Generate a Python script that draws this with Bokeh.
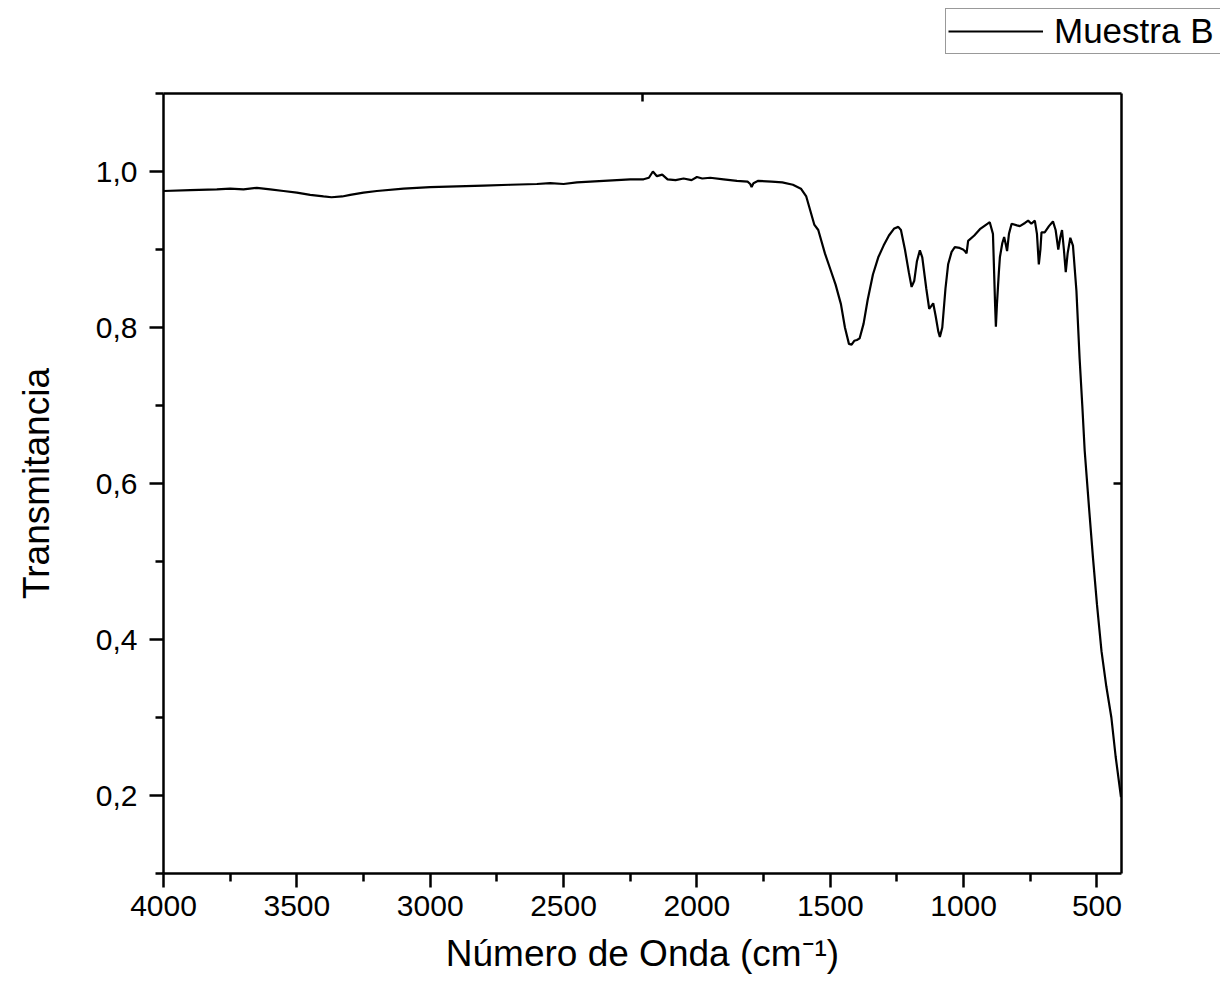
from bokeh.plotting import figure
from bokeh.layouts import column
from bokeh.models import Range1d, LinearAxis, FixedTicker, CustomJSTickFormatter, Legend, LegendItem
from bokeh.embed import file_html
from bokeh.resources import INLINE

wavenumber = [4000, 3900, 3800, 3750, 3700, 3650, 3600, 3550, 3500, 3450, 3400, 3370, 3330, 3300,
              3250, 3200, 3100, 3000, 2900, 2800, 2700, 2600, 2550, 2500, 2450, 2400, 2300, 2250,
              2200, 2180, 2165, 2150, 2130, 2110, 2080, 2050, 2020, 2000, 1980, 1950, 1900, 1850,
              1810, 1800, 1795, 1788, 1770, 1720, 1680, 1640, 1610, 1590, 1575, 1560, 1545, 1520,
              1500, 1480, 1460, 1445, 1430, 1420, 1410, 1400, 1390, 1375, 1360, 1340, 1320, 1300,
              1280, 1260, 1245, 1235, 1220, 1205, 1195, 1185, 1175, 1164, 1155, 1140, 1129, 1120,
              1114, 1105, 1095, 1089, 1080, 1068, 1058, 1045, 1033, 1015, 1002, 995, 989, 983,
              960, 939, 915, 902, 890, 882, 879, 875, 868, 864, 855, 848, 841, 837, 830, 820,
              800, 789, 770, 758, 746, 733, 725, 718, 712, 708, 696, 680, 665, 655, 645, 638,
              631, 624, 617, 610, 600, 590, 577, 565, 555, 546, 530, 515, 500, 483, 465, 446,
              430, 410]
transmitancia = [0.975, 0.976, 0.977, 0.978, 0.977, 0.979, 0.977, 0.975, 0.973, 0.970, 0.968, 0.967, 0.968, 0.970,
                 0.973, 0.975, 0.978, 0.980, 0.981, 0.982, 0.983, 0.984, 0.985, 0.984, 0.986, 0.987, 0.989, 0.990,
                 0.990, 0.992, 1.000, 0.994, 0.996, 0.990, 0.989, 0.991, 0.989, 0.993, 0.991, 0.992, 0.990, 0.988,
                 0.987, 0.984, 0.980, 0.985, 0.988, 0.987, 0.986, 0.983, 0.978, 0.968, 0.950, 0.932, 0.925, 0.895,
                 0.875, 0.855, 0.830, 0.800, 0.779, 0.778, 0.783, 0.784, 0.786, 0.805, 0.835, 0.868, 0.890, 0.905,
                 0.918, 0.927, 0.929, 0.925, 0.900, 0.870, 0.852, 0.860, 0.885, 0.899, 0.890, 0.850, 0.824, 0.828,
                 0.831, 0.815, 0.795, 0.788, 0.800, 0.850, 0.881, 0.897, 0.903, 0.902, 0.900, 0.898, 0.895, 0.911,
                 0.918, 0.926, 0.932, 0.935, 0.920, 0.830, 0.801, 0.830, 0.870, 0.890, 0.908, 0.916, 0.905, 0.898, 0.920, 0.933,
                 0.931, 0.930, 0.934, 0.937, 0.933, 0.937, 0.920, 0.881, 0.900, 0.922, 0.922, 0.930, 0.936, 0.925, 0.900, 0.915,
                 0.925, 0.900, 0.871, 0.895, 0.915, 0.905, 0.847, 0.760, 0.700, 0.642, 0.570, 0.505, 0.445, 0.385, 0.340, 0.300,
                 0.250, 0.198]

x_major = [500, 1000, 1500, 2000, 2500, 3000, 3500, 4000]
x_minor = [750, 1250, 1750, 2250, 2750, 3250, 3750]
y_major = [0.2, 0.4, 0.6, 0.8, 1.0]
y_minor = [0.1, 0.3, 0.5, 0.7, 0.9, 1.1]
series_name = "Muestra B"

FONT = "Liberation Sans"
LINE_W = 2.2

# --- top strip holding the legend (outside the plot frame, as in the original) ---
head = figure(width=1220, height=80, x_range=Range1d(0, 1), y_range=Range1d(0, 1),
              x_axis_type=None, y_axis_type=None, output_backend="svg", toolbar_location=None,
              min_border=0)
head.frame_align = False
head.grid.visible = False
head.outline_line_color = None
# same series, out of this strip's view: it only supplies the legend sample
sample = head.line(wavenumber, transmitancia, line_color="black", line_width=LINE_W)
legend = Legend(items=[LegendItem(label=series_name, renderers=[sample])],
                location=(945, 26), padding=2, margin=0, spacing=0,
                glyph_width=95, glyph_height=20, label_standoff=11, label_width=185,
                label_text_font=FONT, label_text_font_size="35px", label_text_color="black",
                border_line_color="#333333", border_line_width=1.5, background_fill_alpha=1.0)
head.add_layout(legend, "center")

# --- main plot ---
p = figure(width=1220, height=912, x_range=Range1d(4000, 408), y_range=Range1d(0.1, 1.1),
           output_backend="svg", toolbar_location=None,
           min_border_left=163, min_border_right=99, min_border_top=13, min_border_bottom=119,
           x_axis_label="Número de Onda (cm⁻¹)", y_axis_label="Transmitancia")
p.frame_align = False
p.grid.visible = False
p.outline_line_color = None
p.background_fill_color = "white"
p.border_fill_color = "white"

p.line(wavenumber, transmitancia, line_color="black", line_width=LINE_W)

for ax in (p.xaxis[0], p.yaxis[0]):
    ax.axis_line_width = 2.5
    ax.major_tick_line_width = 2.5
    ax.minor_tick_line_width = 2.5
    ax.major_tick_out = 14
    ax.major_tick_in = 0
    ax.minor_tick_out = 8
    ax.minor_tick_in = 0
    ax.major_label_text_font = FONT
    ax.major_label_text_font_size = "30px"
    ax.major_label_text_color = "black"
    ax.axis_label_text_font = FONT
    ax.axis_label_text_font_size = "37px"
    ax.axis_label_text_font_style = "normal"
    ax.axis_label_text_color = "black"

p.xaxis[0].ticker = FixedTicker(ticks=x_major, minor_ticks=x_minor)
p.yaxis[0].ticker = FixedTicker(ticks=y_major, minor_ticks=y_minor)
p.yaxis[0].formatter = CustomJSTickFormatter(code="return tick.toFixed(1).replace('.', ',');")
p.xaxis[0].major_label_standoff = 8
p.yaxis[0].major_label_standoff = 12
p.xaxis[0].axis_label_standoff = 14
p.yaxis[0].axis_label_standoff = 36

blank = CustomJSTickFormatter(code="return '';")
top = LinearAxis(ticker=FixedTicker(ticks=[(4000 + 408) / 2], minor_ticks=[]), formatter=blank,
                 axis_line_width=2.5, major_tick_line_width=2.5, major_tick_in=8, major_tick_out=0,
                 minor_tick_out=0, minor_tick_in=0, minor_tick_line_color=None, major_label_standoff=0)
right = LinearAxis(ticker=FixedTicker(ticks=[0.6], minor_ticks=[]), formatter=blank,
                   axis_line_width=2.5, major_tick_line_width=2.5, major_tick_in=8, major_tick_out=0,
                   minor_tick_out=0, minor_tick_in=0, minor_tick_line_color=None, major_label_standoff=0)
p.add_layout(top, "above")
p.add_layout(right, "right")

open("out.html", "w").write(file_html(column(head, p, spacing=0), INLINE))
